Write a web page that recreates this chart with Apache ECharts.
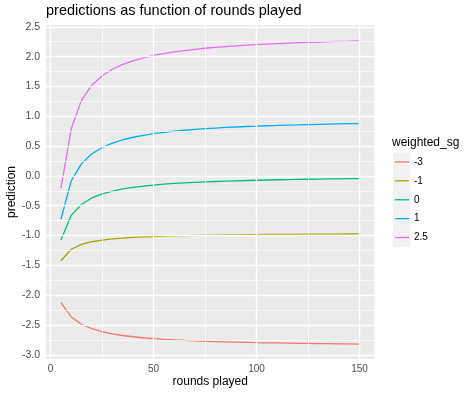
<!DOCTYPE html>
<html>
<head>
<meta charset="utf-8">
<script src="https://cdn.jsdelivr.net/npm/echarts@6/dist/echarts.min.js"></script>
<style>
html,body{margin:0;padding:0;background:#fff;}
#c{width:474px;height:395px;}
</style>
</head>
<body>
<div id="c"></div>
<script>
var rounds = [5,10,15,20,25,30,35,40,45,50,55,60,65,70,75,80,85,90,95,100,105,110,115,120,125,130,135,140,145,150];
var groups = ['-3','-1','0','1','2.5'];
var sgNeg3 = [-2.125,-2.365,-2.488,-2.562,-2.613,-2.649,-2.676,-2.697,-2.714,-2.728,-2.740,-2.750,-2.758,-2.765,-2.772,-2.778,-2.783,-2.787,-2.791,-2.795,-2.798,-2.801,-2.804,-2.807,-2.809,-2.811,-2.813,-2.815,-2.817,-2.819];
var sgNeg1 = [-1.423,-1.230,-1.149,-1.104,-1.076,-1.057,-1.042,-1.031,-1.023,-1.016,-1.010,-1.005,-1.001,-0.998,-0.995,-0.992,-0.990,-0.988,-0.986,-0.984,-0.982,-0.981,-0.980,-0.979,-0.977,-0.976,-0.975,-0.975,-0.974,-0.973];
var sg0 = [-1.074,-0.661,-0.475,-0.370,-0.302,-0.254,-0.219,-0.192,-0.171,-0.154,-0.139,-0.127,-0.117,-0.108,-0.100,-0.094,-0.088,-0.082,-0.077,-0.073,-0.069,-0.065,-0.062,-0.059,-0.056,-0.054,-0.051,-0.049,-0.047,-0.045];
var sg1 = [-0.727,-0.084,0.206,0.370,0.477,0.551,0.606,0.648,0.681,0.708,0.730,0.749,0.765,0.779,0.791,0.802,0.812,0.820,0.828,0.834,0.841,0.846,0.852,0.856,0.861,0.865,0.869,0.872,0.875,0.878];
var sg25 = [-0.210,0.790,1.271,1.520,1.678,1.788,1.869,1.930,1.979,2.019,2.051,2.079,2.102,2.122,2.140,2.155,2.169,2.181,2.192,2.202,2.211,2.219,2.226,2.233,2.239,2.245,2.251,2.256,2.260,2.265];
var xTicks = [0,50,100,150];
var xMinor = [25,75,125];
var yTicks = [-3.0,-2.5,-2.0,-1.5,-1.0,-0.5,0.0,0.5,1.0,1.5,2.0,2.5];
var yMinor = [-2.75,-2.25,-1.75,-1.25,-0.75,-0.25,0.25,0.75,1.25,1.75,2.25];

var colors = ['#F8766D','#A3A500','#00BF7D','#00B0F6','#E76BF3'];
var seriesVals = [sgNeg3, sgNeg1, sg0, sg1, sg25];

function pairs(vals){ return rounds.map(function(r,i){ return [r, vals[i]]; }); }

var gridLines = [];
yMinor.forEach(function(v){ gridLines.push({yAxis: v, lineStyle:{width:0.7}}); });
xMinor.forEach(function(v){ gridLines.push({xAxis: v, lineStyle:{width:0.7}}); });
yTicks.forEach(function(v){ gridLines.push({yAxis: v, lineStyle:{width:1.4}}); });
xTicks.forEach(function(v){ gridLines.push({xAxis: v, lineStyle:{width:1.4}}); });

var series = [{
  name: '__grid', type: 'line', data: [], z: 1, silent: true,
  markLine: {
    silent: true, symbol: ['none','none'], animation: false,
    label: {show: false},
    lineStyle: {color: '#FFFFFF', type: 'solid'},
    emphasis: {disabled: true},
    data: gridLines
  }
}];
groups.forEach(function(g, i){
  series.push({
    name: g, type: 'line', data: pairs(seriesVals[i]), z: 3,
    showSymbol: false, symbol: 'none', smooth: false,
    lineStyle: {color: colors[i], width: 1.3},
    itemStyle: {color: colors[i]},
    animation: false
  });
});

var FF = '"Liberation Sans", Arial, sans-serif';
var legendTop = 152.5, keyH = 18.9;
var graphics = groups.map(function(g, i){
  return {type:'rect', left: 393, top: legendTop + i*keyH, shape:{width:17.3, height:keyH}, style:{fill:'#F2F2F2'}, z: 0, silent: true};
});
graphics.push({
  type: 'text', x: 46, y: 3.5, z: 10, silent: true,
  style: {text: 'predictions as function of rounds played', fontSize: 14.5, fontFamily: FF, fill: '#000000', align: 'left', verticalAlign: 'top'}
});

var chart = echarts.init(document.getElementById('c'), null, {renderer:'canvas'});
chart.setOption({
  animation: false,
  backgroundColor: '#FFFFFF',
  textStyle: {fontFamily: FF},
  title: [{
    text: 'weighted_sg', left: 392, top: 137, padding: 0,
    textStyle: {fontSize: 12, fontWeight: 'normal', color: '#000000', fontFamily: FF}
  }],
  grid: {left: 46, right: 99.5, top: 25, bottom: 36, show: true, backgroundColor: '#EBEBEB', borderWidth: 0, containLabel: false, outerBoundsMode: 'none'},
  xAxis: {
    type: 'value', min: -2.25, max: 157.25,
    name: 'rounds played', nameLocation: 'middle', nameGap: 17, nameMoveOverlap: false,
    nameTextStyle: {fontSize: 12, color: '#000000', verticalAlign: 'top'},
    axisLine: {show: false},
    axisTick: {show: true, length: 3.5, lineStyle:{color:'#333333', width:1}, customValues: xTicks},
    axisLabel: {show: true, margin: 5, fontSize: 10, color: '#4D4D4D', customValues: xTicks, formatter: function(v){ return String(v); }},
    splitLine: {show: false}
  },
  yAxis: {
    type: 'value', min: -3.07, max: 2.53,
    name: 'prediction', nameLocation: 'middle', nameGap: 28, nameMoveOverlap: false,
    nameTextStyle: {fontSize: 12, color: '#000000'},
    axisLine: {show: false},
    axisTick: {show: true, length: 3.5, lineStyle:{color:'#333333', width:1}, customValues: yTicks},
    axisLabel: {show: true, margin: 6, fontSize: 10.5, color: '#4D4D4D', customValues: yTicks, formatter: function(v){ return v.toFixed(1); }},
    splitLine: {show: false}
  },
  legend: {
    orient: 'vertical', left: 395, top: legendTop, itemGap: 0, padding: 0,
    itemWidth: 14, itemHeight: 1.3, icon: 'rect',
    data: groups.map(function(g, i){ return {name: g, icon: 'rect', itemStyle: {color: colors[i]}}; }),
    textStyle: {fontSize: 10, color: '#000000', lineHeight: 18.9, height: 18.9, padding: 0},
    selectedMode: false
  },
  graphic: graphics,
  series: series
});
</script>
</body>
</html>
